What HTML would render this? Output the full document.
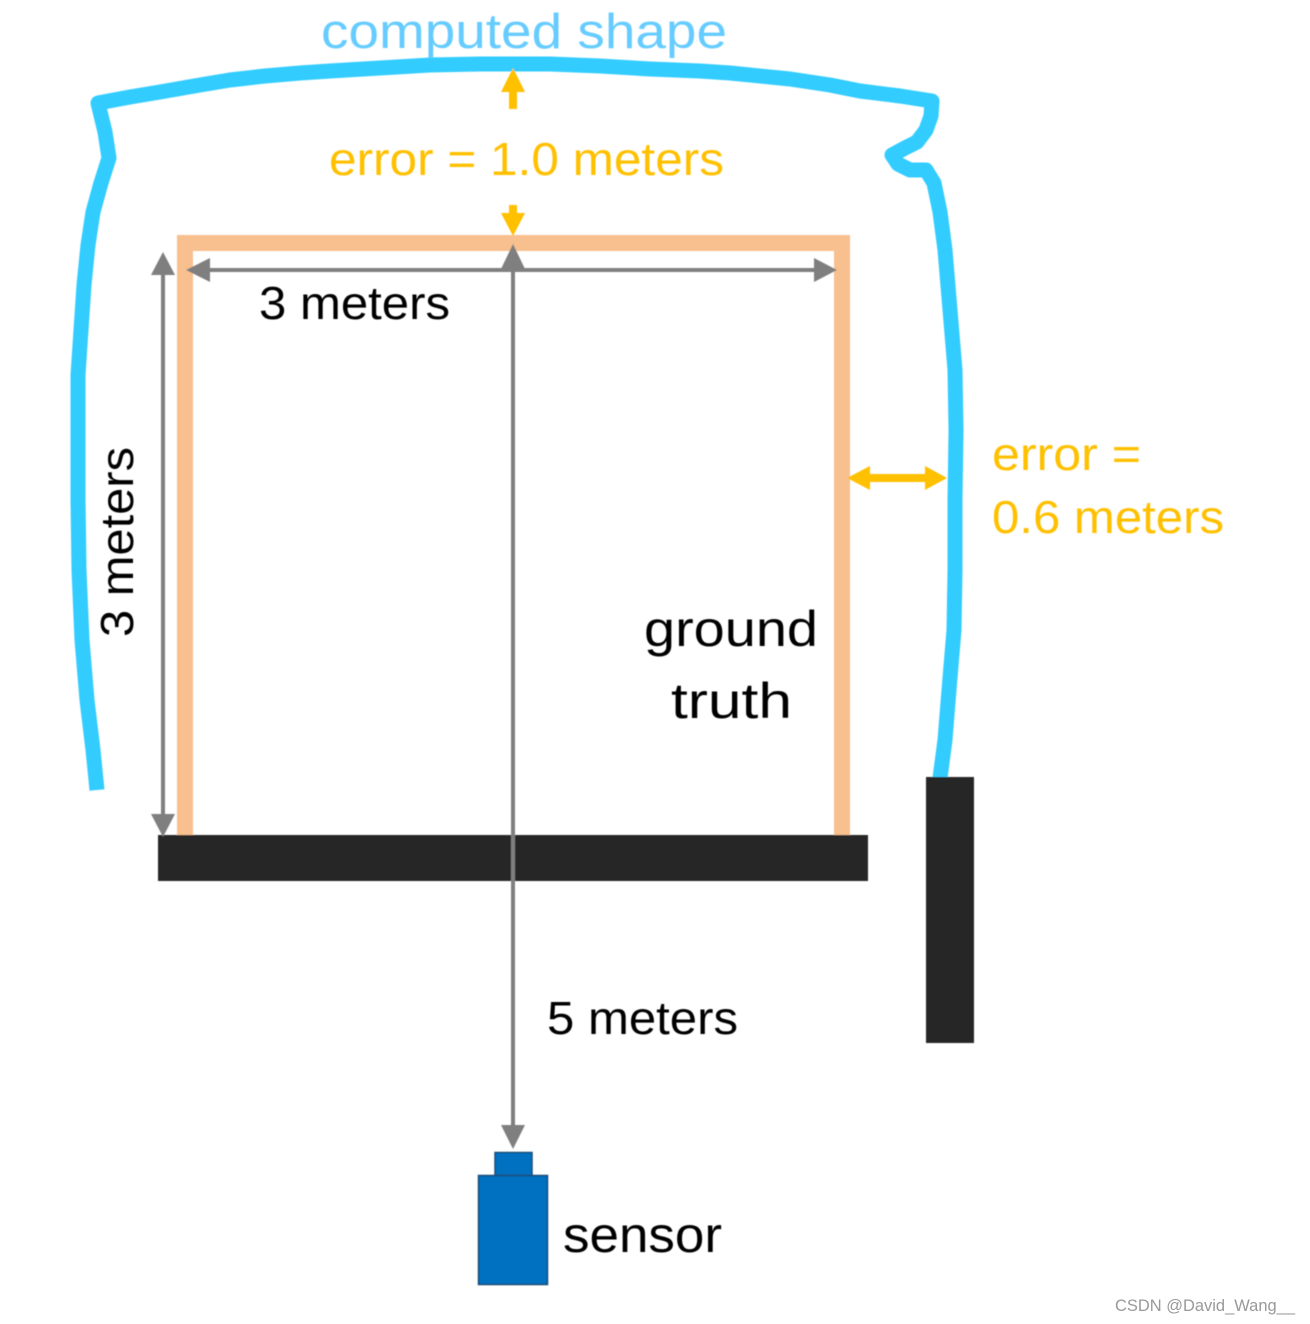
<!DOCTYPE html>
<html>
<head>
<meta charset="utf-8">
<style>
html,body{margin:0;padding:0;background:#fff;width:1310px;height:1324px;overflow:hidden}
svg{display:block}
text{font-family:"Liberation Sans",sans-serif}
</style>
</head>
<body>
<svg width="1310" height="1324" viewBox="0 0 1310 1324" xmlns="http://www.w3.org/2000/svg">
<defs><filter id="soft" x="-5%" y="-5%" width="110%" height="110%"><feGaussianBlur stdDeviation="0.6"/></filter></defs>
<g filter="url(#soft)">
<!-- computed shape -->
<path d="M97 790 L93 750 L87 700 L82 640 L79 570 L78 500 L78 430 L78 375 L81 330 L84 285 L88 245 L93 212 L101 183 L109 158 L105 132 L98 103 L130 97 L160 92 L200 85 L230 80 L265 76 L300 73 L330 71 L380 68 L430 65 L480 64 L550 64 L600 66 L650 69 L700 71 L730 73 L790 79 L830 85 L860 91 L900 96 L932 101 L931 116 L926 130 L917 142 L905 148 L892 155 L898 164 L910 170 L926 170 L934 183 L940 212 L945 250 L950 310 L955 370 L956 430 L955 500 L955 570 L954 630 L949 690 L945 740 L940 778" fill="none" stroke="#33ccff" stroke-width="15" stroke-linejoin="round"/>
<!-- ground truth -->
<path d="M185 835 V243 H842 V835" fill="none" stroke="#f8bf8f" stroke-width="16"/>
<!-- walls -->
<rect x="158" y="835" width="710" height="46" fill="#262626"/>
<rect x="926" y="777" width="48" height="266" fill="#262626"/>
<!-- gray arrows -->
<g fill="#7f7f7f" stroke="none">
<rect x="161" y="270" width="4" height="550"/>
<polygon points="163,252 175,275 151,275"/>
<polygon points="163,837 175,814 151,814"/>
<rect x="205" y="268" width="615" height="4"/>
<polygon points="186,270 210,258 210,282"/>
<polygon points="837,270 814,258 814,282"/>
<rect x="511" y="262" width="4" height="868"/>
<polygon points="513,244 525,269 501,269"/>
<polygon points="513,1149 525,1125 501,1125"/>
</g>
<!-- yellow arrows -->
<g fill="#ffc000">
<rect x="509" y="88" width="8" height="21"/>
<polygon points="513,68 525,92 501,92"/>
<rect x="509" y="205" width="8" height="12"/>
<polygon points="513,236 525,213 501,213"/>
<rect x="865" y="474" width="65" height="8"/>
<polygon points="847,478 870,466 870,490"/>
<polygon points="947,478 925,466 925,490"/>
</g>
<!-- sensor -->
<rect x="495" y="1152.500" width="37" height="23" fill="#0070c0" stroke="#1f4e79" stroke-width="1.500"/>
<rect x="478.500" y="1175.500" width="69" height="109" fill="#0070c0" stroke="#1f4e79" stroke-width="1.500"/>
<!-- labels -->
<text x="321" y="48" font-size="49" fill="#66ccff" textLength="406" lengthAdjust="spacingAndGlyphs">computed shape</text>
<text x="329" y="175" font-size="46" fill="#ffc000" textLength="395" lengthAdjust="spacingAndGlyphs">error = 1.0 meters</text>
<text x="259" y="319" font-size="46" fill="#000" textLength="191" lengthAdjust="spacingAndGlyphs">3 meters</text>
<text x="992" y="470" font-size="46" fill="#ffc000" textLength="149" lengthAdjust="spacingAndGlyphs">error =</text>
<text x="992" y="533" font-size="46" fill="#ffc000" textLength="232" lengthAdjust="spacingAndGlyphs">0.6 meters</text>
<text x="644" y="646" font-size="50" fill="#000" textLength="174" lengthAdjust="spacingAndGlyphs">ground</text>
<text x="671" y="718" font-size="50" fill="#000" textLength="121" lengthAdjust="spacingAndGlyphs">truth</text>
<text x="547" y="1034" font-size="46" fill="#000" textLength="191" lengthAdjust="spacingAndGlyphs">5 meters</text>
<text x="563" y="1252" font-size="50" fill="#000" textLength="159" lengthAdjust="spacingAndGlyphs">sensor</text>
<text transform="translate(133 637) rotate(-90)" x="0" y="0" font-size="46" fill="#000" textLength="190" lengthAdjust="spacingAndGlyphs">3 meters</text>
</g>
<text x="1115" y="1311" font-size="17" fill="#999" textLength="180" lengthAdjust="spacingAndGlyphs">CSDN @David_Wang__</text>
</svg>
</body>
</html>
